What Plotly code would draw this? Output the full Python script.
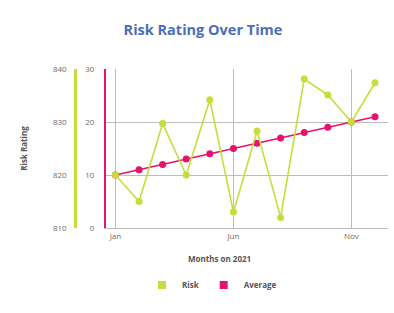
import plotly.graph_objects as go

months = ["Jan", "Feb", "Mar", "Apr", "May", "Jun", "Jul", "Aug", "Sep", "Oct", "Nov", "Dec"]
risk = [820, 815, 829.7, 820, 834.2, 813, 828.3, 812, 838.1, 835.1, 830, 837.4]
average = [10, 11, 12, 13, 14, 15, 16, 17, 18, 19, 20, 21]
tick_months = ["Jan", "Jun", "Nov"]

GREEN = "#c8dc3c"
MAGENTA = "#e5136f"
GRID = "#bdbdbd"
TICK = "#6b6b6b"
FONT = "Open Sans"

W, H = 394, 313
ML, MR, MT, MB = 20, 6, 69, 85
pw = W - ML - MR
ph = H - MT - MB
x0 = (106 - ML) / pw
xg = (75 - ML) / pw

fig = go.Figure()
fig.add_trace(go.Scatter(
    x=months, y=risk, yaxis="y2", mode="lines+markers", name="Risk",
    line=dict(color=GREEN, width=1.6), marker=dict(color=GREEN, size=7),
    showlegend=False))
fig.add_trace(go.Scatter(
    x=months, y=average, mode="lines+markers", name="Average",
    line=dict(color=MAGENTA, width=1.6), marker=dict(color=MAGENTA, size=7),
    showlegend=False))
# legend entries (square swatches)
fig.add_trace(go.Scatter(x=[None], y=[None], mode="markers", name="<b>Risk</b>",
                         marker=dict(color=GREEN, size=8, symbol="square")))
fig.add_trace(go.Scatter(x=[None], y=[None], mode="markers", name="<b>Average</b>",
                         marker=dict(color=MAGENTA, size=8, symbol="square")))

fig.update_layout(
    width=W, height=H,
    margin=dict(l=ML, r=MR, t=MT, b=MB),
    paper_bgcolor="white", plot_bgcolor="white",
    font=dict(family=FONT, size=8, color=TICK),
    title=dict(text="<b>Risk Rating Over Time</b>", x=(203 - ML) / pw, xref="paper",
               xanchor="center", y=1 - 30 / H, yanchor="middle",
               font=dict(family=FONT, size=14.5, color="#4a6fb5")),
    xaxis=dict(domain=[x0, 1], type="category", categoryorder="array",
               categoryarray=months, range=[-0.4, 11.55],
               tickmode="array", tickvals=tick_months, ticktext=tick_months,
               showgrid=True, gridcolor=GRID, gridwidth=1,
               showline=True, linecolor=GRID, linewidth=1,
               ticks="", tickfont=dict(size=8, color=TICK), zeroline=False),
    yaxis=dict(range=[0, 30], tickvals=[0, 10, 20, 30], showgrid=True,
               gridcolor=GRID, showline=True, linecolor=MAGENTA, linewidth=2,
               ticks="", zeroline=False, tickfont=dict(size=8, color=TICK),
               ticklabelstandoff=8),
    yaxis2=dict(range=[810, 840], tickvals=[810, 820, 830, 840], overlaying="y",
                anchor="free", position=xg, side="left", showgrid=False,
                showline=True, linecolor=GREEN, linewidth=2.5, ticks="",
                zeroline=False, tickfont=dict(size=8, color=TICK),
                ticklabelstandoff=6,
                title=dict(text="<b>Risk Rating</b>", font=dict(size=8, color="#555555"),
                           standoff=23)),
    legend=dict(orientation="h", x=(142 - ML) / pw, xanchor="left",
                y=-57 / ph, yanchor="middle", font=dict(size=8, color="#555555"),
                itemwidth=30),
    showlegend=True,
)
fig.add_annotation(text="<b>Months on 2021</b>", xref="paper", yref="paper",
                   x=(219 - ML) / pw, y=-30 / ph, xanchor="center", yanchor="middle",
                   showarrow=False, font=dict(size=8, color="#555555"))

fig.write_html("out.html", config={"displayModeBar": False},
               post_script="document.body.style.margin='0px';")
